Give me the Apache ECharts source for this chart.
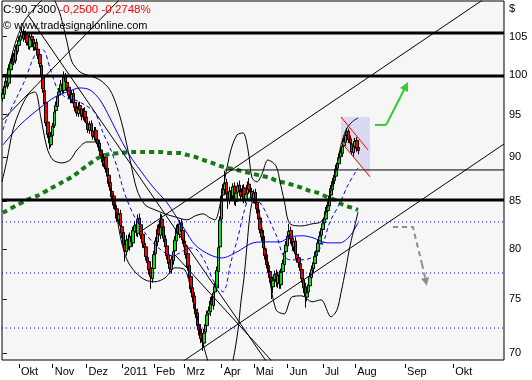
<!DOCTYPE html>
<html><head><meta charset="utf-8">
<script src="https://cdn.jsdelivr.net/npm/echarts@6/dist/echarts.min.js"></script>
<style>html,body{margin:0;padding:0;background:#fff}#c{width:532px;height:380px}</style>
</head><body><div id="c"></div>
<script>
// ---- calendar ----
const startDate = '2010-09-17', lastBarDate = '2011-08-03', endDate = '2011-11-01';
const holidays = ['2010-11-25','2010-12-24','2011-01-17','2011-02-21','2011-04-22','2011-05-30','2011-07-04'];
const monthTicks = [['2010-10','Okt'],['2010-11','Nov'],['2010-12','Dez'],['2011-01','2011'],['2011-02','Feb'],['2011-03','Mrz'],['2011-04','Apr'],['2011-05','Mai'],['2011-06','Jun'],['2011-07','Jul'],['2011-08','Aug'],['2011-09','Sep'],['2011-10','Okt']];
const yTicks = [70,75,80,85,90,95,100,105];
const yRange = [69.38, 109.88];
const headClose = 'C:90,7300', headChange = '-0,2500 -0,2748%', credit = '\u00a9 www.tradesignalonline.com', unit = '$';

// ---- OHLC ----
const opens = [97.0,97.5,98.5,99.2,98.9,100.6,101.4,102.4,101.8,103.0,
103.8,104.5,105.0,105.7,104.6,105.2,104.3,103.6,105.0,104.6,
103.5,104.2,103.3,102.6,101.2,99.9,98.0,96.5,94.1,92.8,
91.4,92.5,93.7,95.5,96.0,97.4,97.9,98.8,98.0,99.8,
99.0,98.4,97.5,96.8,97.6,96.5,95.8,95.1,96.1,95.7,
94.7,95.4,94.7,93.9,93.1,93.9,93.0,92.3,93.1,92.0,
91.6,90.8,90.1,89.2,90.0,88.7,87.9,87.1,86.1,85.6,
84.5,84.2,83.0,83.7,82.3,81.7,80.4,79.7,81.0,80.2,
81.3,80.6,81.8,82.5,81.6,83.2,82.5,81.5,80.5,80.2,
79.1,78.7,78.0,77.0,78.0,79.5,80.7,82.1,81.4,83.1,
82.3,81.0,80.3,79.4,78.6,77.9,78.8,79.8,80.8,82.2,
81.5,82.7,81.9,80.8,80.3,79.5,78.3,77.2,76.1,75.3,
74.0,73.7,72.6,72.2,71.4,70.9,71.9,72.5,73.6,73.8,
74.9,74.4,75.7,76.1,77.7,80.2,83.1,85.7,86.3,87.1,
85.9,85.1,86.2,85.6,86.7,85.0,86.0,86.8,86.1,85.5,
86.5,85.2,85.9,86.9,86.2,86.1,85.3,86.0,84.9,84.1,
83.2,81.9,81.3,80.0,79.4,78.3,77.7,77.0,76.2,76.9,
77.5,76.6,77.4,76.4,77.7,78.4,79.7,80.3,81.4,81.9,
81.1,80.2,80.8,79.4,79.1,78.5,77.9,76.9,76.2,75.2,
75.7,76.3,77.1,78.0,78.5,79.3,79.7,80.5,81.4,82.0,
82.7,83.1,84.0,84.5,85.7,86.3,87.3,87.8,88.7,89.2,
90.0,90.4,91.3,91.7,92.6,93.0,92.1,91.5,90.5,91.2,
91.9,91.1];
const closes = [97.6,98.4,99.1,98.6,100.8,101.5,102.3,101.6,103.2,103.9,
104.4,105.1,105.6,104.7,105.3,104.2,103.8,104.9,104.5,103.6,
104.1,103.2,102.5,101.4,99.8,98.2,96.3,94.0,92.6,91.6,
92.4,93.6,95.3,96.1,97.2,97.8,98.7,98.2,99.6,99.1,
98.3,97.4,96.9,97.5,96.4,95.9,95.2,96.0,95.6,94.8,
95.3,94.6,94.0,93.2,93.8,93.1,92.4,93.0,92.1,91.5,
90.7,90.2,89.4,89.9,88.6,87.8,87.0,86.2,85.5,84.6,
84.1,83.2,83.6,82.4,81.6,80.5,79.8,80.9,80.3,81.2,
80.7,81.9,82.4,81.7,83.1,82.6,81.4,80.6,80.1,79.2,
78.6,77.9,77.2,78.1,79.4,80.8,82.0,81.5,83.0,82.2,
81.1,80.2,79.3,78.5,78.0,78.9,79.7,80.9,82.1,81.6,
82.6,81.8,80.9,80.2,79.4,78.2,77.1,76.0,75.2,74.1,
73.6,72.5,72.1,71.3,71.0,71.8,72.6,73.5,73.9,74.8,
74.5,75.6,76.2,77.8,80.1,83.0,85.6,86.4,87.0,85.8,
85.2,86.1,85.7,86.6,85.1,85.9,86.7,86.2,85.6,86.4,
85.3,85.8,86.8,86.3,86.0,85.4,85.9,84.8,84.2,83.1,
82.0,81.2,80.1,79.3,78.4,77.6,77.1,76.3,76.8,77.4,
76.7,77.3,76.5,77.6,78.5,79.6,80.4,81.3,81.8,81.0,
80.3,80.7,79.5,79.0,78.6,77.8,77.0,76.1,75.3,75.6,
76.4,77.2,77.9,78.6,79.2,79.8,80.6,81.3,82.1,82.6,
83.2,83.9,84.6,85.6,86.4,87.2,87.9,88.6,89.3,89.9,
90.5,91.2,91.8,92.5,92.9,92.0,91.6,90.6,91.3,91.8,
90.98,90.73];
const highs = [98.2,98.9,99.6,99.8,101.3,102.0,102.9,102.8,103.8,104.5,
105.0,105.6,106.2,106.0,105.8,105.6,104.7,105.4,105.5,104.9,
104.6,104.7,103.7,103.0,101.6,100.3,98.5,96.9,94.5,93.2,
92.9,94.0,95.9,96.6,97.8,98.3,99.3,99.2,100.4,100.2,
99.4,98.8,97.9,98.0,98.1,96.9,96.2,96.5,96.6,96.1,
95.8,95.9,95.1,94.3,94.2,94.3,93.4,93.5,93.5,92.5,
92.0,91.2,90.5,90.4,90.4,89.1,88.3,87.5,86.6,86.0,
84.9,84.6,84.1,84.1,82.7,82.1,80.9,81.4,81.5,81.7,
81.7,82.3,82.9,82.9,83.6,83.7,82.9,81.9,80.9,80.6,
79.5,79.1,78.4,78.5,79.8,81.2,82.5,82.6,83.7,83.6,
82.7,81.4,80.6,79.8,79.0,79.3,80.1,81.3,82.5,82.6,
83.0,83.1,82.3,81.2,80.7,79.9,78.7,77.6,76.5,75.7,
74.4,74.1,73.0,72.6,71.8,72.2,73.0,73.9,74.3,75.2,
75.3,76.0,76.6,78.2,80.5,83.4,86.0,86.9,88.4,87.5,
86.3,86.6,86.6,87.0,87.1,86.3,87.1,87.3,86.5,86.8,
86.9,86.2,87.2,87.6,86.6,86.5,86.3,86.4,85.3,84.5,
83.6,82.3,81.7,80.4,79.8,78.7,78.1,77.4,77.2,77.8,
77.9,77.7,77.8,78.0,78.9,80.0,80.8,81.7,82.6,82.3,
81.5,81.1,81.2,79.8,79.5,78.9,78.3,77.3,76.6,76.1,
76.9,77.6,78.3,79.0,79.7,80.2,81.0,81.8,82.5,83.1,
83.6,84.4,85.0,86.0,86.8,87.6,88.4,89.1,89.7,90.4,
91.0,91.6,92.2,92.9,93.4,93.3,92.5,91.9,91.7,92.2,
92.3,91.4];
const lows = [96.6,97.1,98.1,98.2,98.5,100.1,101.0,101.2,101.4,102.6,
103.4,104.1,104.6,104.3,104.2,103.8,103.3,103.2,104.0,103.1,
103.1,102.8,102.0,100.9,99.3,97.7,95.8,93.6,92.2,90.9,
91.1,92.3,93.4,95.1,95.7,97.0,97.5,97.7,97.6,98.6,
97.9,96.9,96.4,96.4,96.0,95.4,94.8,94.7,95.2,94.3,
94.3,94.1,93.6,92.8,92.7,92.7,92.0,91.9,91.7,91.1,
90.3,89.8,88.9,88.8,88.2,87.4,86.6,85.8,85.0,84.2,
83.6,82.8,82.6,81.9,81.1,80.0,78.7,79.3,79.9,79.8,
80.3,80.2,81.4,81.3,81.2,82.1,81.0,80.1,79.6,78.8,
78.2,77.4,76.0,76.6,77.6,79.1,80.3,81.1,81.0,81.8,
80.7,79.8,78.9,78.1,77.5,77.5,78.4,79.4,80.4,81.2,
81.1,81.4,80.5,79.8,79.0,77.8,76.7,75.6,74.7,73.7,
73.2,72.1,71.6,70.9,70.2,70.5,71.5,72.1,73.2,73.4,
74.0,74.0,75.3,75.7,77.3,79.8,82.7,85.2,85.9,85.4,
84.2,84.7,85.2,85.1,84.6,84.5,85.5,85.7,85.2,85.0,
84.8,84.8,85.4,85.8,85.6,84.9,84.8,84.3,83.7,82.7,
81.6,80.8,79.7,78.9,78.0,77.2,76.6,75.0,75.6,76.4,
76.2,76.1,76.0,76.0,77.2,78.0,79.3,79.9,81.0,80.5,
79.8,79.7,79.0,78.6,78.1,77.4,76.6,75.6,74.2,74.8,
75.3,75.9,76.8,77.6,78.1,78.9,79.3,80.1,81.0,81.6,
82.3,82.7,83.6,84.1,85.3,85.9,86.9,87.4,88.3,88.8,
89.6,90.0,90.9,91.3,92.2,91.6,91.2,90.2,90.0,90.8,
90.6,90.3];

// ---- indicators: [bar position, price] ----
const ma200 = [[0.1,83.77],[15.0,85.17],[21.3,85.61],[29.3,86.38],[37.4,87.16],[43.0,87.72],[48.0,88.39],[52.9,89.07],[60.4,89.99],[66.6,90.33],[72.8,90.45],[80.9,90.57],[87.1,90.57],[97.7,90.57],[103.9,90.45],[110.1,90.45],[114.5,90.22],[119.5,89.99],[124.4,89.64],[130.0,89.30],[135.0,88.96],[140.0,88.73],[145.6,88.50],[150.5,88.28],[155.5,88.05],[161.1,87.83],[166.1,87.60],[170.4,87.27],[175.4,87.05],[180.4,86.82],[185.9,86.49],[190.9,86.16],[195.9,85.94],[201.5,85.50],[206.5,85.17],[211.4,84.63],[217.0,84.31],[220.8,84.09]];
const ma50 = [[0.1,91.38],[10.7,93.75],[23.1,95.82],[32.4,97.17],[39.9,97.80],[48.0,98.30],[54.2,98.05],[60.4,96.80],[66.6,94.59],[72.8,92.21],[79.1,90.10],[85.3,88.50],[93.3,86.60],[102.1,84.85],[108.3,83.23],[113.2,81.96],[119.5,80.40],[128.8,79.38],[136.2,79.07],[145.6,79.69],[155.5,80.61],[164.2,80.71],[172.3,80.71],[178.5,81.23],[186.6,81.34],[192.8,81.13],[201.5,80.61],[209.6,80.61],[215.8,81.34],[220.8,82.70]];
const ma20 = [[0.1,93.15],[2.6,94.59],[9.4,97.42],[13.8,99.31],[20.0,102.54],[25.0,103.20],[29.3,100.85],[33.7,98.30],[38.7,97.17],[44.9,96.80],[51.1,96.18],[57.3,95.21],[62.3,92.80],[66.6,91.03],[71.0,88.84],[74.1,86.82],[77.2,85.17],[82.2,83.23],[88.4,81.65],[94.6,80.40],[100.8,79.59],[105.8,79.28],[110.1,79.59],[116.3,80.09],[120.7,79.89],[125.7,78.67],[130.6,76.88],[136.9,75.71],[141.8,78.67],[146.2,81.23],[149.9,83.87],[153.6,85.39],[158.0,85.17],[161.7,84.41],[166.1,82.80],[170.4,81.23],[174.1,79.38],[178.5,78.87],[184.7,78.87],[192.8,79.18],[199.0,80.61],[203.3,82.80],[209.6,84.85],[213.9,86.60],[218.9,88.16],[220.8,88.73]];
const bandUpper = [[-0.5,97.42],[4.5,101.63],[8.8,104.80],[13.8,107.24],[18.8,108.62],[24.4,110.02],[29.3,110.73],[34.3,108.9],[37.4,106.56],[39.9,104.26],[43.0,101.63],[48.0,100.33],[54.2,99.82],[60.4,99.31],[66.6,98.05],[71.0,95.94],[74.7,93.39],[79.1,89.64],[83.4,86.27],[88.4,84.63],[94.6,84.09],[100.8,83.66],[107.0,83.34],[114.5,83.02],[119.5,83.44],[124.4,83.66],[128.8,83.23],[131.9,83.02],[135.0,84.63],[138.1,87.60],[141.8,90.80],[145.6,92.56],[149.3,92.80],[152.4,90.80],[154.9,87.60],[158.0,87.16],[161.1,88.05],[164.8,89.64],[169.8,88.96],[172.3,87.16],[174.8,85.17],[178.5,82.60],[185.9,82.38],[192.2,82.60],[197.8,82.81],[200.9,83.87],[204.0,86.27],[207.1,88.50],[210.2,91.38],[213.3,93.15],[217.0,94.10],[220.8,94.59]];
const bandLower = [[-0.5,87.16],[2.6,89.64],[6.3,93.15],[10.7,95.57],[15.7,97.42],[20.0,97.80],[23.7,94.59],[27.5,91.03],[31.2,89.64],[36.8,89.30],[41.8,89.64],[46.1,90.80],[52.3,91.73],[57.3,91.73],[61.7,90.22],[65.4,87.38],[69.7,84.41],[73.5,80.92],[77.2,78.87],[82.2,77.67],[88.4,76.88],[94.6,76.69],[100.8,77.07],[107.0,78.07],[113.2,77.87],[118.2,74.94],[122.6,72.11],[126.3,69.84],[130.0,68.33],[135.0,67.2],[140.0,67.8],[143.1,69.38],[146.2,72.11],[148.0,74.75],[149.9,77.07],[151.8,80.40],[153.6,83.55],[155.5,84.95],[158.0,84.63],[161.1,82.17],[164.8,78.07],[169.8,73.98],[174.8,73.60],[179.8,75.23],[185.9,75.32],[192.2,74.75],[197.8,74.94],[204.0,73.32],[207.7,73.98],[210.2,75.61],[213.3,78.07],[215.8,80.30],[218.9,82.49],[220.8,83.87]];

// ---- drawings: [bar position, price] ----
const hThick = [[12,311.5,105.47],[-0.5,311.5,99.82],[-0.5,311.5,85.17]];
const hThin = [[138,311.5,88.50]];
const hDotted = [82.80, 77.56, 72.28];
const trendLines = [
  [[85.3,81.75],[311.5,112.08]],
  [[107.0,68.78],[311.5,91.49]],
  [[0,94.35],[75.9,110.88]],
  [[15.7,107.93],[166.1,68.78]],
  [[107.0,79.38],[169.5,68.94]]
];
const redLines = [[[210.2,94.71],[227.0,90.80]],[[210.2,91.73],[228.2,87.72]]];
const channelShade = [[210.2,94.71],[228.2,94.71],[228.2,87.72],[210.2,91.73]];
const upArrow = [[231.3,93.75],[238.2,93.75],[250.6,98.55]];
const downArrow = [[242.5,82.27],[254.9,82.27],[256.8,80.92],[258.7,79.68],[260.5,78.47],[263.0,76.69]];

// ---- build ----
const L = Math.log;
const cats = [];
(function(){
  const hol = new Set(holidays);
  const last = Date.parse(lastBarDate+'T00:00:00Z'), end = Date.parse(endDate+'T00:00:00Z');
  for (let t = Date.parse(startDate+'T00:00:00Z'); t <= end; t += 86400000) {
    const d = new Date(t), s = d.toISOString().slice(0,10), wd = d.getUTCDay();
    if (t > last || (wd !== 0 && wd !== 6 && !hol.has(s))) cats.push(s);
  }
})();
const tickMap = new Map();
monthTicks.forEach(([ym, lab]) => { const i = cats.findIndex(c => c.startsWith(ym)); if (i >= 0) tickMap.set(i, lab); });
const XMAX = cats.length - 0.5;
const lp = arr => arr.map(p => [p[0], L(p[1])]);
const FONT = 'Liberation Sans';

const series = [];
series.push({type:'custom', xAxisIndex:1, yAxisIndex:0, z:1, silent:true,
  renderItem:(params, api) => ({type:'polygon', shape:{points: channelShade.map(p => api.coord([p[0], L(p[1])]))}, style:{fill:'#d9d9f1'}}),
  data:[[channelShade[0][0], L(channelShade[0][1])]]});
series.push({type:'candlestick', xAxisIndex:0, yAxisIndex:0, z:3, barWidth:3,
  data: opens.map((o,i) => [L(o), L(closes[i]), L(lows[i]), L(highs[i])]),
  itemStyle:{color:'#10e010', color0:'#ff0000', borderColor:'#000', borderColor0:'#000', borderWidth:1}});
const lineS = (data, style, z, smooth) => ({type:'line', xAxisIndex:1, yAxisIndex:0, data, showSymbol:false, symbol:'none', smooth: smooth||false, z: z||4, silent:true, lineStyle: style});
hThick.forEach(h => series.push(lineS([[h[0], L(h[2])],[h[1], L(h[2])]], {color:'#000', width:3}, 5)));
hThin.forEach(h => series.push(lineS([[h[0], L(h[2])],[h[1], L(h[2])]], {color:'#000', width:1}, 5)));
hDotted.forEach(v => series.push(lineS([[-0.5, L(v)],[XMAX, L(v)]], {color:'#0000ee', width:1, type:[1,3]}, 5)));
series.push(lineS(lp(ma200), {color:'#157a15', width:4, type:[5,4]}, 4, 0.3));
series.push(lineS(lp(ma50), {color:'#0000ff', width:1}, 4, 0.3));
series.push(lineS(lp(ma20), {color:'#0000ff', width:1, type:[4,3]}, 4, 0.3));
series.push(lineS(lp(bandUpper), {color:'#000', width:1}, 4, 0.3));
series.push(lineS(lp(bandLower), {color:'#000', width:1}, 4, 0.3));
trendLines.forEach(t => series.push(lineS(lp(t), {color:'#000', width:1}, 6)));
redLines.forEach(t => series.push(lineS(lp(t), {color:'#ff0000', width:1}, 6)));
// arrows: path without head + last segment with head
function arrowSeries(pts, style, size) {
  const q = lp(pts);
  return [
    {type:'lines', coordinateSystem:'cartesian2d', xAxisIndex:1, yAxisIndex:0, polyline:true, z:7, silent:true,
     lineStyle:Object.assign({opacity:1}, style), data:[{coords: q.slice(0, q.length - 1)}]},
    {type:'lines', coordinateSystem:'cartesian2d', xAxisIndex:1, yAxisIndex:0, z:7, silent:true,
     symbol:['none','triangle'], symbolSize:size,
     lineStyle:Object.assign({opacity:1}, style), data:[{coords: q.slice(q.length - 2)}]}
  ];
}
series.push(...arrowSeries(upArrow, {color:'#33cc33', width:2}, [7,9]));
series.push(...arrowSeries(downArrow, {color:'#8c8c8c', width:2, type:[5,4]}, [7,8]));

const chart = echarts.init(document.getElementById('c'), null, {renderer:'canvas'});
chart.setOption({
  animation:false,
  backgroundColor:'#ffffff',
  textStyle:{fontFamily:FONT},
  grid:{left:2, right:28, top:1, bottom:20, show:true, backgroundColor:'#f6f6f6', borderColor:'#000', borderWidth:1, containLabel:false},
  xAxis:[
    {type:'category', data:cats, boundaryGap:true, offset:4,
     axisLine:{show:false}, splitLine:{show:false},
     axisTick:{show:true, alignWithLabel:true, interval:(i)=>tickMap.has(i), length:4, lineStyle:{color:'#000', width:1}},
     axisLabel:{interval:(i)=>tickMap.has(i), formatter:(v,i)=>tickMap.get(i)||'', align:'left', margin:2, padding:[0,0,0,2], color:'#000', fontSize:11, fontFamily:FONT}},
    {type:'value', min:-0.5, max:XMAX, show:false}
  ],
  yAxis:[{type:'value', position:'right', min:L(yRange[0]), max:L(yRange[1]), offset:3,
     axisLine:{show:false}, splitLine:{show:false},
     axisTick:{show:true, customValues: yTicks.map(L), length:4, lineStyle:{color:'#000'}},
     axisLabel:{customValues: yTicks.map(L), formatter:v=>String(Math.round(Math.exp(v))), margin:2, color:'#000', fontSize:11, fontFamily:FONT}}],
  graphic:[
    {type:'text', x:3, y:10, z:100, style:{text:'{k|'+headClose+'} {r|'+headChange+'}', verticalAlign:'middle', font:'11.5px "'+FONT+'"', rich:{k:{fill:'#000', font:'11.5px "'+FONT+'"'}, r:{fill:'#ff0000', font:'11.5px "'+FONT+'"'}}}},
    {type:'text', x:3, y:26, z:100, style:{text:credit, fill:'#000', verticalAlign:'middle', font:'11px "'+FONT+'"'}},
    {type:'text', x:509, y:9, z:100, style:{text:unit, fill:'#000', verticalAlign:'middle', font:'11px "'+FONT+'"'}}
  ],
  series
});
</script></body></html>
